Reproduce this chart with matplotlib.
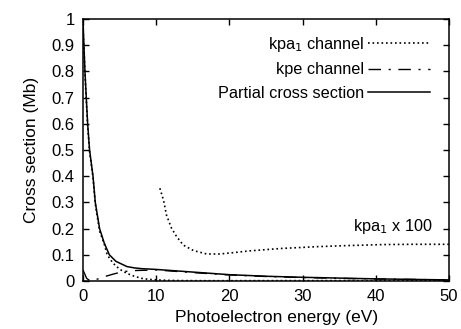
import numpy as np
import matplotlib
matplotlib.use("Agg")
import matplotlib.pyplot as plt

plt.rcParams['font.family'] = ['Liberation Sans', 'DejaVu Sans']

# Partial cross section (solid)
x_total = [0, 0.13, 0.27, 0.45, 0.64, 0.9, 1.37, 1.68, 2.27, 2.9, 3.6, 4.5,
           6, 7, 8, 10, 12, 15, 20, 25, 30, 35, 40, 45, 50]
y_total = [1.0, 0.9, 0.8, 0.7, 0.6, 0.5, 0.4, 0.3, 0.2, 0.145, 0.1, 0.075,
           0.055, 0.05, 0.047, 0.044, 0.04, 0.034, 0.024, 0.018, 0.014, 0.011,
           0.008, 0.006, 0.004]

# kpa1 channel (dotted)
x_kpa1 = [0, 0.13, 0.27, 0.45, 0.64, 0.9, 1.37, 1.68, 2.27, 2.9, 3.3, 4.1, 5,
          6, 7, 8, 9, 10.5, 11, 11.4, 12.1, 12.8, 13.7, 15.1, 16.9, 18.7,
          20.5, 22.8, 27, 32, 36, 41, 45, 50]
y_kpa1 = [0.96, 0.89, 0.79, 0.69, 0.59, 0.495, 0.395, 0.295, 0.19, 0.142, 0.1,
          0.068, 0.045, 0.029, 0.018, 0.01, 0.006, 0.00354, 0.00309, 0.00252,
          0.00201, 0.00169, 0.00137, 0.00116, 0.00103, 0.00103, 0.00108,
          0.00115, 0.00124, 0.00131, 0.00135, 0.00139, 0.0014, 0.0014]

# kpe channel (dash-dot)
x_kpe = [0, 0.5, 1.0, 1.5, 2.3, 3, 4.1, 5.5, 7.3, 10, 12, 15, 20, 25, 30, 35,
         40, 45, 50]
y_kpe = [0.042, 0.01, 0.0, 0.003, 0.01, 0.017, 0.026, 0.036, 0.04, 0.042,
         0.038, 0.032, 0.023, 0.017, 0.013, 0.01, 0.0075, 0.0058, 0.0038]

scale = 100
x_zoom_start = 10.5

fig = plt.figure(figsize=(4.61, 3.29), dpi=100)
ax = fig.add_axes([0.18, 0.146, 0.794, 0.796])

ax.plot(x_kpa1, y_kpa1, color='black', lw=1.2, linestyle=(0, (1, 1.7)),
        label='kpa$_1$ channel')
ax.plot(x_kpe, y_kpe, color='black', lw=1.0, linestyle=(0, (9, 5.5, 1.5, 5.5)),
        label='kpe channel')
ax.plot(x_total, y_total, color='black', lw=1.1, label='Partial cross section')

xk = np.array(x_kpa1)
yk = np.array(y_kpa1)
m = xk >= x_zoom_start
ax.plot(xk[m], yk[m] * scale, color='black', lw=1.2, linestyle=(0, (1, 1.7)))
ax.text(47.7, 0.19, 'kpa$_1$ x 100', ha='right', va='baseline', fontsize=11.7)

ax.set_xlim(0, 50)
ax.set_ylim(0, 1)
ax.set_xticks(np.arange(0, 51, 10))
yt = np.round(np.arange(0, 1.01, 0.1), 1)
ax.set_yticks(yt)
ax.set_yticklabels(['0'] + ['%.1f' % v for v in yt[1:-1]] + ['1'])
ax.tick_params(direction='in', top=True, right=True, length=4.3, width=1,
               labelsize=12, pad=6)
for s in ax.spines.values():
    s.set_linewidth(1.1)

ax.set_xlabel('Photoelectron energy (eV)', fontsize=12.5)
ax.xaxis.set_label_coords(0.53, -0.11)
ax.set_ylabel('Cross section (Mb)', fontsize=12.5, labelpad=9)

ax.legend(loc='upper right', bbox_to_anchor=(0.948, 0.94), frameon=False,
          markerfirst=False, handlelength=3.8, handletextpad=0.25,
          labelspacing=0.52, borderpad=0, borderaxespad=0, fontsize=11.7)

fig.savefig('out.png', dpi=100)
